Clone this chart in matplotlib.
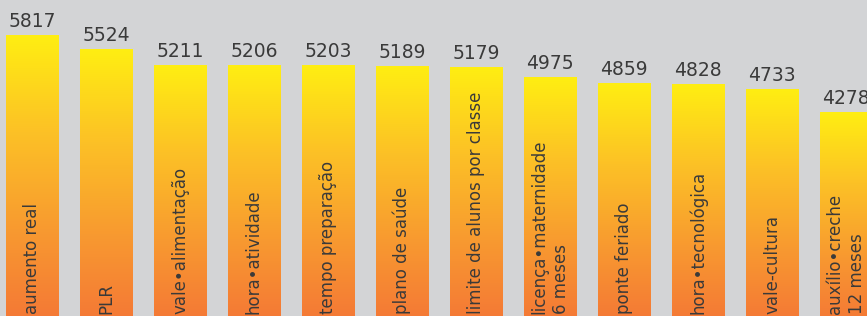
import numpy as np
import matplotlib
matplotlib.use('Agg')
import matplotlib.pyplot as plt
from matplotlib.colors import LinearSegmentedColormap

labels = ['aumento real', 'PLR', 'vale•alimentação', 'hora•atividade',
          'tempo preparação', 'plano de saúde', 'limite de alunos por classe',
          'licença•maternidade\n6 meses', 'ponte feriado', 'hora•tecnológica',
          'vale-cultura', 'auxílio•creche\n12 meses']
values = [5817, 5524, 5211, 5206, 5203, 5189, 5179, 4975, 4859, 4828, 4733, 4278]

BG = '#d3d4d6'
TXT = '#3a3a3a'
cmap = LinearSegmentedColormap.from_list('yo', ['#f47636', '#f89a30', '#fcc126', '#ffee12'])
grad = np.linspace(0, 1, 256).reshape(-1, 1)

fig = plt.figure(figsize=(8.67, 3.16), dpi=100, facecolor=BG)
ax = fig.add_axes([0, 0, 1, 1])
ax.set_facecolor(BG)
w = 0.703
for i, (lab, v) in enumerate(zip(labels, values)):
    ax.imshow(grad, cmap=cmap, origin='lower', aspect='auto',
              extent=[i - w / 2, i + w / 2, 0, v], zorder=2)
    ax.text(i, v + 90, str(v), ha='center', va='bottom', fontsize=13.5,
            color=TXT, zorder=3)
    ax.text(i, 230, lab, rotation=90, ha='center', va='bottom',
            multialignment='left', fontsize=12, color=TXT, zorder=3,
            linespacing=1.3)

ax.set_xlim(-32 / 74, 835 / 74)
ax.set_ylim(200, 6520)
ax.axis('off')
fig.savefig('out.png', dpi=100, facecolor=BG)
